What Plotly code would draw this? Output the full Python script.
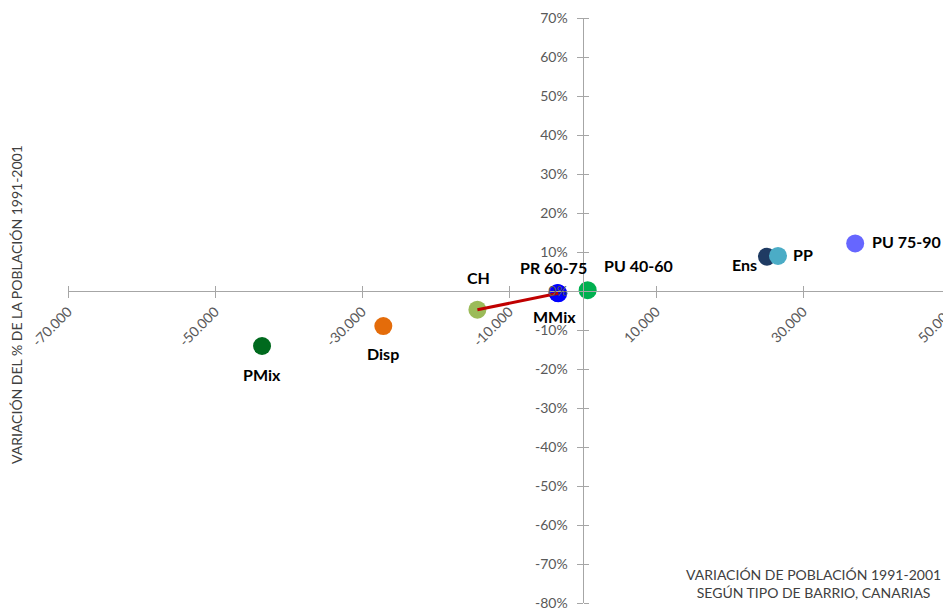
import plotly.graph_objects as go

# ---- data ----
names = ["PMix", "Disp", "CH", "PR 60-75", "MMix", "PU 40-60", "Ens", "PP", "PU 75-90"]
pop_change = [-43600, -27100, -14300, -3400, -3300, 700, 25100, 26600, 37100]
pct_change = [-0.141, -0.090, -0.048, -0.005, -0.006, 0.002, 0.088, 0.090, 0.122]
colors = ["#006A1E", "#E46C0A", "#9BBB59", "#0000FF", "#0000FF", "#00B050", "#1F3B63", "#4BACC6", "#6666FF"]
link_names = ["CH", "MMix"]

x_tickvals = list(range(-70000, 50001, 20000))
x_ticktext = [f"{v:,}".replace(",", ".") for v in x_tickvals]
y_tickvals = [v / 100 for v in range(-80, 71, 10)]
y_ticktext = [f"{round(v * 100)}%" for v in y_tickvals]

x_range = [-70000, 50000]
y_range = [-0.8, 0.7]

# ---- style ----
label_shift = {  # (xshift, yshift) in px
    "PMix": (0, -29), "Disp": (0, -27), "CH": (1, 32), "PR 60-75": (-4, 25),
    "MMix": (-4, -23), "PU 40-60": (51, 25), "Ens": (-22, -8), "PP": (25, 1),
    "PU 75-90": (51, 2),
}
AXIS_COLOR = "#A6A6A6"
FONT = "Lato, Open Sans, sans-serif"
TICK_FONT = dict(family=FONT, size=14, color="#595959")

xpos = (0 - x_range[0]) / (x_range[1] - x_range[0])
ypos = (0 - y_range[0]) / (y_range[1] - y_range[0])

fig = go.Figure()
fig.add_trace(go.Scatter(
    x=pop_change, y=pct_change, mode="markers",
    marker=dict(size=18, color=colors, line=dict(width=0)),
    showlegend=False, hoverinfo="text", text=names,
))
li = [names.index(n) for n in link_names]
fig.add_trace(go.Scatter(
    x=[pop_change[i] for i in li], y=[pct_change[i] for i in li], mode="lines",
    line=dict(color="#C00000", width=3), showlegend=False, hoverinfo="skip",
))
# dummy trace for the overlay axes (crossing tick marks)
fig.add_trace(go.Scatter(x=[], y=[], xaxis="x2", yaxis="y2", showlegend=False, hoverinfo="skip"))

annotations = []
for n, xv, yv in zip(names, pop_change, pct_change):
    dx, dy = label_shift[n]
    annotations.append(dict(
        x=xv, y=yv, xref="x", yref="y", text=f"<b>{n}</b>", showarrow=False,
        xshift=dx, yshift=dy, font=dict(family=FONT, size=16, color="#000000"),
    ))
annotations.append(dict(
    xref="paper", yref="paper", x=0, y=0.5, xshift=-62, yshift=6,
    text="VARIACIÓN DEL % DE LA POBLACIÓN 1991-2001", textangle=-90, showarrow=False,
    font=dict(family=FONT, size=14, color="#404040"),
))
annotations.append(dict(
    xref="paper", yref="paper", x=0.845, y=0.034, xanchor="center", yanchor="middle",
    text="VARIACIÓN DE POBLACIÓN 1991-2001<br>SEGÚN TIPO DE BARRIO, CANARIAS",
    showarrow=False, font=dict(family=FONT, size=14, color="#404040"),
))

common_x = dict(range=x_range, tickvals=x_tickvals, showgrid=False, zeroline=False,
                anchor="free", position=ypos, automargin=False)
common_y = dict(range=y_range, tickvals=y_tickvals, showgrid=False, zeroline=False,
                anchor="free", position=xpos, automargin=False)

# page body has an 8px default margin: size the figure so the plot area lands right
fig.update_layout(
    width=943, height=601,
    margin=dict(l=60, r=1, t=10, b=6),
    paper_bgcolor="white", plot_bgcolor="white",
    xaxis=dict(**common_x, ticktext=x_ticktext, tickangle=-45, tickfont=TICK_FONT,
               showline=True, linecolor=AXIS_COLOR, linewidth=1,
               ticks="outside", ticklen=6, tickcolor=AXIS_COLOR, side="bottom",
               ticklabeloverflow="allow"),
    yaxis=dict(**common_y, ticktext=y_ticktext, tickfont=TICK_FONT,
               showline=True, linecolor=AXIS_COLOR, linewidth=1,
               ticks="outside", ticklen=6, tickcolor=AXIS_COLOR, side="left",
               ticklabelstandoff=6, ticklabeloverflow="allow"),
    xaxis2=dict(**common_x, overlaying="x", side="top", showticklabels=False,
                showline=False, ticks="outside", ticklen=5, tickcolor=AXIS_COLOR),
    yaxis2=dict(**common_y, overlaying="y", side="right", showticklabels=False,
                showline=False, ticks="outside", ticklen=5, tickcolor=AXIS_COLOR),
    annotations=annotations,
    font=dict(family=FONT),
)

fig.write_html("out.html")
